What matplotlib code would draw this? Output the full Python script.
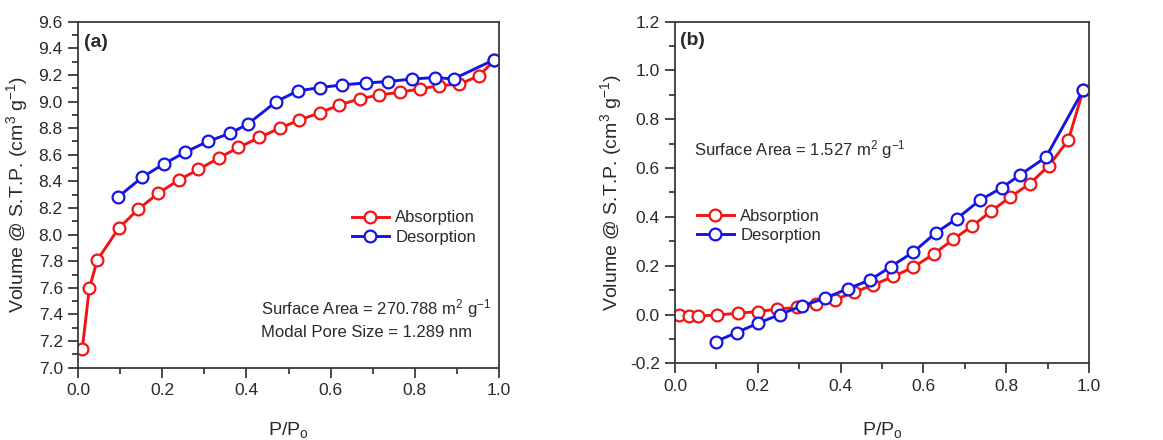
import matplotlib
matplotlib.use("Agg")
import matplotlib.pyplot as plt
from matplotlib.ticker import MultipleLocator, FormatStrFormatter

plt.rcParams['font.family'] = ['Liberation Sans', 'DejaVu Sans']
plt.rcParams['mathtext.fontset'] = 'custom'
plt.rcParams['mathtext.rm'] = 'Liberation Sans'
plt.rcParams['mathtext.it'] = 'Liberation Sans:italic'
plt.rcParams['mathtext.bf'] = 'Liberation Sans:bold'
plt.rcParams['axes.unicode_minus'] = False

# ---------------- data: panel (a) ----------------
a_ads_x = [0.010, 0.027, 0.046, 0.097, 0.143, 0.190, 0.239, 0.286, 0.334, 0.381,
           0.431, 0.479, 0.525, 0.574, 0.621, 0.669, 0.716, 0.765, 0.812, 0.858,
           0.906, 0.953, 0.989]
a_ads_y = [7.14, 7.60, 7.81, 8.05, 8.19, 8.31, 8.41, 8.49, 8.575, 8.655,
           8.73, 8.80, 8.86, 8.915, 8.975, 9.02, 9.05, 9.07, 9.095, 9.12,
           9.13, 9.195, 9.31]
a_des_x = [0.094, 0.152, 0.203, 0.255, 0.308, 0.360, 0.403, 0.471, 0.522, 0.575,
           0.627, 0.684, 0.737, 0.794, 0.847, 0.892, 0.989]
a_des_y = [8.28, 8.43, 8.53, 8.62, 8.70, 8.76, 8.83, 9.00, 9.08, 9.105,
           9.125, 9.14, 9.15, 9.17, 9.18, 9.17, 9.315]

# ---------------- data: panel (b) ----------------
b_ads_x = [0.010, 0.033, 0.055, 0.102, 0.151, 0.200, 0.247, 0.294, 0.340, 0.387,
           0.433, 0.479, 0.527, 0.575, 0.625, 0.672, 0.718, 0.764, 0.810, 0.857,
           0.903, 0.950, 0.986]
b_ads_y = [0.000, -0.005, -0.006, -0.002, 0.005, 0.012, 0.022, 0.029, 0.042, 0.061,
           0.092, 0.121, 0.156, 0.193, 0.248, 0.308, 0.363, 0.424, 0.482, 0.536,
           0.610, 0.715, 0.920]
b_des_x = [0.098, 0.149, 0.200, 0.253, 0.307, 0.362, 0.417, 0.471, 0.521, 0.575,
           0.630, 0.681, 0.736, 0.790, 0.834, 0.896, 0.986]
b_des_y = [-0.111, -0.074, -0.036, 0.000, 0.036, 0.066, 0.106, 0.141, 0.196, 0.255,
           0.335, 0.393, 0.468, 0.520, 0.573, 0.645, 0.920]

series_labels = ['Absorption', 'Desorption']
ylabel = 'Volume @ S.T.P. (cm$^{3}$ g$^{-1}$)'
xlabel = 'P/P$_{\\mathrm{o}}$'

RED = '#f01414'
BLUE = '#1414e6'
TXT = '#2a2a2a'
SPINE = '#3a3a3a'

fig = plt.figure(figsize=(11.63, 4.40), dpi=100)
ax_a = fig.add_axes([0.0671, 0.1643, 0.3620, 0.7864])
ax_b = fig.add_axes([0.5804, 0.1743, 0.3560, 0.7764])

line_kw = dict(lw=2.1, marker='o', ms=8.5, mfc='white', mew=1.6)


def style(ax, ylim, ymajor):
    ax.set_xlim(0, 1.0)
    ax.set_ylim(*ylim)
    ax.xaxis.set_major_locator(MultipleLocator(0.2))
    ax.xaxis.set_minor_locator(MultipleLocator(0.1))
    ax.yaxis.set_major_locator(MultipleLocator(ymajor))
    ax.yaxis.set_minor_locator(MultipleLocator(ymajor / 2))
    ax.tick_params(which='both', direction='out', top=False, right=False,
                   colors=SPINE, labelcolor=TXT, labelsize=12.5)
    ax.tick_params(which='major', length=7, width=1.3, pad=4)
    ax.tick_params(which='minor', length=4.3, width=1.3)
    for s in ax.spines.values():
        s.set_color(SPINE)
        s.set_linewidth(1.3)
    ax.xaxis.set_major_formatter(FormatStrFormatter('%.1f'))
    ax.yaxis.set_major_formatter(FormatStrFormatter('%.1f'))


# panel (a)
ax_a.plot(a_ads_x, a_ads_y, color=RED, mec=RED, label=series_labels[0], **line_kw)
ax_a.plot(a_des_x, a_des_y, color=BLUE, mec=BLUE, label=series_labels[1], **line_kw)
style(ax_a, (7.0, 9.6), 0.2)
ax_a.set_ylabel(ylabel, fontsize=14, color=TXT)
ax_a.set_xlabel(xlabel, fontsize=14, color=TXT, va='top')
ax_a.yaxis.set_label_coords(-0.114, 0.5)
ax_a.xaxis.set_label_coords(0.5, -0.152)
ax_a.text(0.014, 0.941, '(a)', transform=ax_a.transAxes, fontsize=14,
          fontweight='bold', color=TXT, va='center', ha='left')
ax_a.text(0.435, 0.170, 'Surface Area = 270.788 m$^{2}$ g$^{-1}$', transform=ax_a.transAxes,
          fontsize=12, color=TXT, va='center', ha='left')
ax_a.text(0.435, 0.103, 'Modal Pore Size = 1.289 nm', transform=ax_a.transAxes,
          fontsize=12, color=TXT, va='center', ha='left')
ax_a.legend(loc='center left', bbox_to_anchor=(0.651, 0.405), frameon=False,
            borderpad=0, borderaxespad=0, handlelength=2.2, handletextpad=0.4,
            labelspacing=0.25, fontsize=12, labelcolor=TXT)

# panel (b)
ax_b.plot(b_ads_x, b_ads_y, color=RED, mec=RED, label=series_labels[0], **line_kw)
ax_b.plot(b_des_x, b_des_y, color=BLUE, mec=BLUE, label=series_labels[1], **line_kw)
style(ax_b, (-0.2, 1.2), 0.2)
ax_b.set_ylabel(ylabel, fontsize=14, color=TXT)
ax_b.set_xlabel(xlabel, fontsize=14, color=TXT, va='top')
ax_b.yaxis.set_label_coords(-0.124, 0.5)
ax_b.xaxis.set_label_coords(0.5, -0.166)
ax_b.text(0.012, 0.946, '(b)', transform=ax_b.transAxes, fontsize=14,
          fontweight='bold', color=TXT, va='center', ha='left')
ax_b.text(0.046, 0.627, 'Surface Area = 1.527 m$^{2}$ g$^{-1}$', transform=ax_b.transAxes,
          fontsize=12, color=TXT, va='center', ha='left')
ax_b.legend(loc='center left', bbox_to_anchor=(0.053, 0.403), frameon=False,
            borderpad=0, borderaxespad=0, handlelength=2.2, handletextpad=0.4,
            labelspacing=0.25, fontsize=12, labelcolor=TXT)

fig.savefig('out.png', dpi=100)
